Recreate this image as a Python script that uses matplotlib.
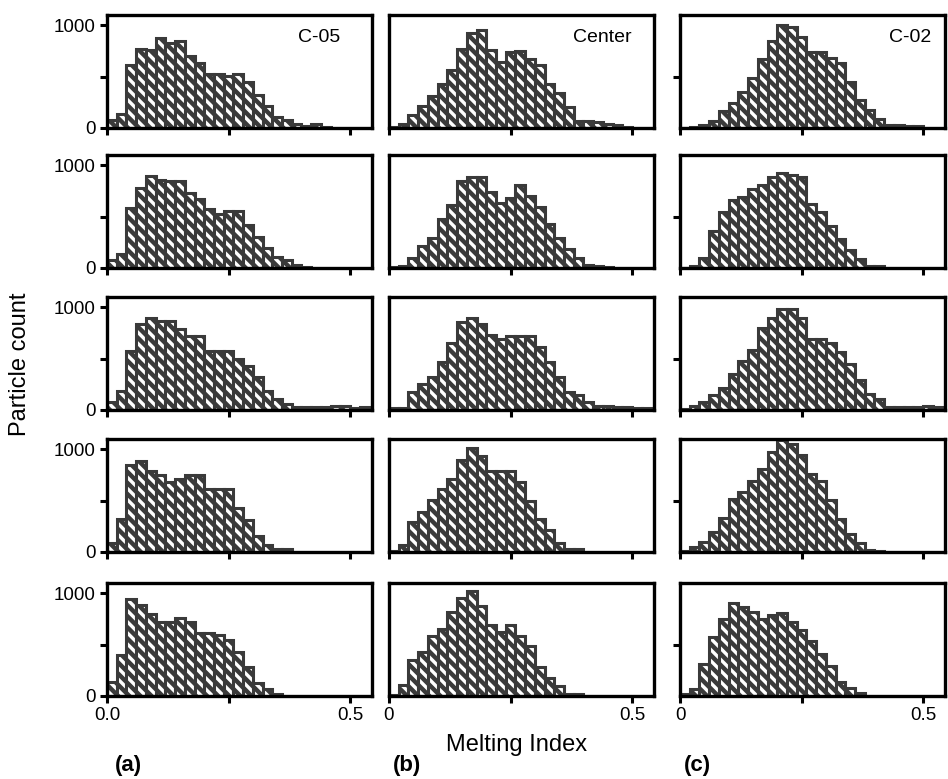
#!/usr/bin/env python
import matplotlib
matplotlib.use('Agg')
import matplotlib.pyplot as plt
import numpy as np

matplotlib.rc('font', family='Liberation Sans')
matplotlib.rc('hatch', linewidth=3.2)

# particle counts per melting-index bin (bin width 0.02, starting at 0)
bin_width = 0.02

a1 = [75, 140, 610, 773, 763, 880, 828, 847, 698, 633, 529, 529, 503, 529, 448, 318, 211, 107, 75, 42, 20, 40, 10]
a2 = [82, 136, 585, 782, 891, 857, 843, 850, 728, 670, 578, 524, 558, 558, 415, 306, 190, 109, 75, 34, 7]
a3 = [77, 187, 577, 833, 900, 867, 867, 793, 717, 717, 577, 577, 577, 500, 433, 317, 183, 110, 60, 33, 33, 33, 30, 37, 37, 20, 27]
a4 = [89, 321, 851, 887, 788, 752, 679, 712, 752, 752, 613, 613, 613, 424, 315, 159, 66, 26, 26]
a5 = [136, 398, 942, 884, 799, 721, 721, 755, 721, 612, 612, 592, 544, 432, 279, 126, 68, 24]

b1 = [5, 40, 130, 215, 310, 433, 565, 770, 920, 950, 760, 640, 740, 750, 675, 610, 433, 345, 200, 70, 65, 60, 40, 25, 5]
b2 = [10, 20, 96, 212, 291, 480, 610, 850, 890, 890, 736, 634, 685, 805, 702, 590, 428, 291, 188, 96, 27, 17, 5]
b3 = [20, 20, 177, 253, 320, 470, 650, 860, 900, 833, 727, 687, 720, 720, 720, 610, 467, 317, 177, 143, 77, 43, 43, 27, 27, 20, 20]
b4 = [5, 66, 288, 387, 507, 613, 712, 894, 1010, 937, 788, 788, 788, 679, 497, 325, 215, 89, 26, 26]
b5 = [10, 109, 354, 432, 585, 653, 813, 952, 1020, 874, 694, 619, 694, 585, 490, 286, 177, 102, 24, 24]

c1 = [0, 5, 25, 65, 165, 240, 350, 490, 670, 845, 1000, 980, 885, 735, 735, 680, 630, 450, 270, 175, 90, 30, 25, 20, 15]
c2 = [0, 17, 94, 361, 545, 660, 694, 771, 806, 882, 920, 910, 882, 622, 545, 406, 285, 174, 83, 24, 24]
c3 = [10, 40, 77, 150, 217, 350, 473, 583, 800, 900, 983, 983, 900, 690, 690, 650, 560, 450, 293, 160, 107, 33, 33, 33, 33, 40, 30]
c4 = [5, 50, 101, 196, 331, 514, 581, 693, 804, 973, 1088, 1054, 946, 760, 693, 507, 321, 176, 84, 24, 5]
c5 = [20, 66, 312, 576, 747, 905, 865, 822, 750, 790, 812, 717, 641, 536, 411, 289, 141, 76, 33]

columns = [[a1, a2, a3, a4, a5], [b1, b2, b3, b4, b5], [c1, c2, c3, c4, c5]]
titles = ['C-05', 'Center', 'C-02']
title_x = [0.80, 0.805, 0.87]
zero_labels = ['0.0', '0', '0']
letters = ['(a)', '(b)', '(c)']

W, H = 948, 779
col_left = [107, 389, 680]
row_top = [15, 155, 297, 439, 583]
ax_w, ax_h = 265, 113
ink = '#3a3a3a'

fig = plt.figure(figsize=(W / 100, H / 100), dpi=100)


def plot_panel(ax, counts):
    counts = np.asarray(counts)
    left = np.arange(len(counts)) * bin_width
    ax.bar(left, counts, width=bin_width, align='edge', facecolor='white',
           edgecolor=ink, hatch='\\\\\\', linewidth=2.2)
    ax.set_xlim(0, 0.545)
    ax.set_ylim(0, 1100)
    for s in ax.spines.values():
        s.set_linewidth(2.4)
        s.set_color('black')
    ax.tick_params(direction='out', length=5, width=2.2, labelsize=13.5, pad=3)


for i, col in enumerate(columns):
    for j, counts in enumerate(col):
        ax = fig.add_axes([col_left[i] / W, 1 - (row_top[j] + ax_h) / H, ax_w / W, ax_h / H])
        plot_panel(ax, counts)
        ax.set_xticks([0, 0.25, 0.5])
        if j == 4:
            ax.set_xticklabels([zero_labels[i], '', '0.5'])
        else:
            ax.set_xticklabels([])
        if i == 0:
            ax.set_yticks([0, 500, 1000])
            ax.set_yticklabels(['0', '', '1000'])
        elif i == 2:
            ax.set_yticks([500])
            ax.set_yticklabels([])
        else:
            ax.set_yticks([])
        if j == 0:
            ax.text(title_x[i], 0.80, titles[i], transform=ax.transAxes,
                    ha='center', va='center', fontsize=14)

fig.text(20 / W, 1 - 364 / H, 'Particle count', rotation=90, ha='center', va='center', fontsize=17)
fig.text(517 / W, 1 - 745 / H, 'Melting Index', ha='center', va='center', fontsize=17)
for x, s in zip([128, 407, 697], letters):
    fig.text(x / W, 1 - 765 / H, s, ha='center', va='center', fontsize=16, fontweight='bold')

fig.savefig('out.png', dpi=100)
